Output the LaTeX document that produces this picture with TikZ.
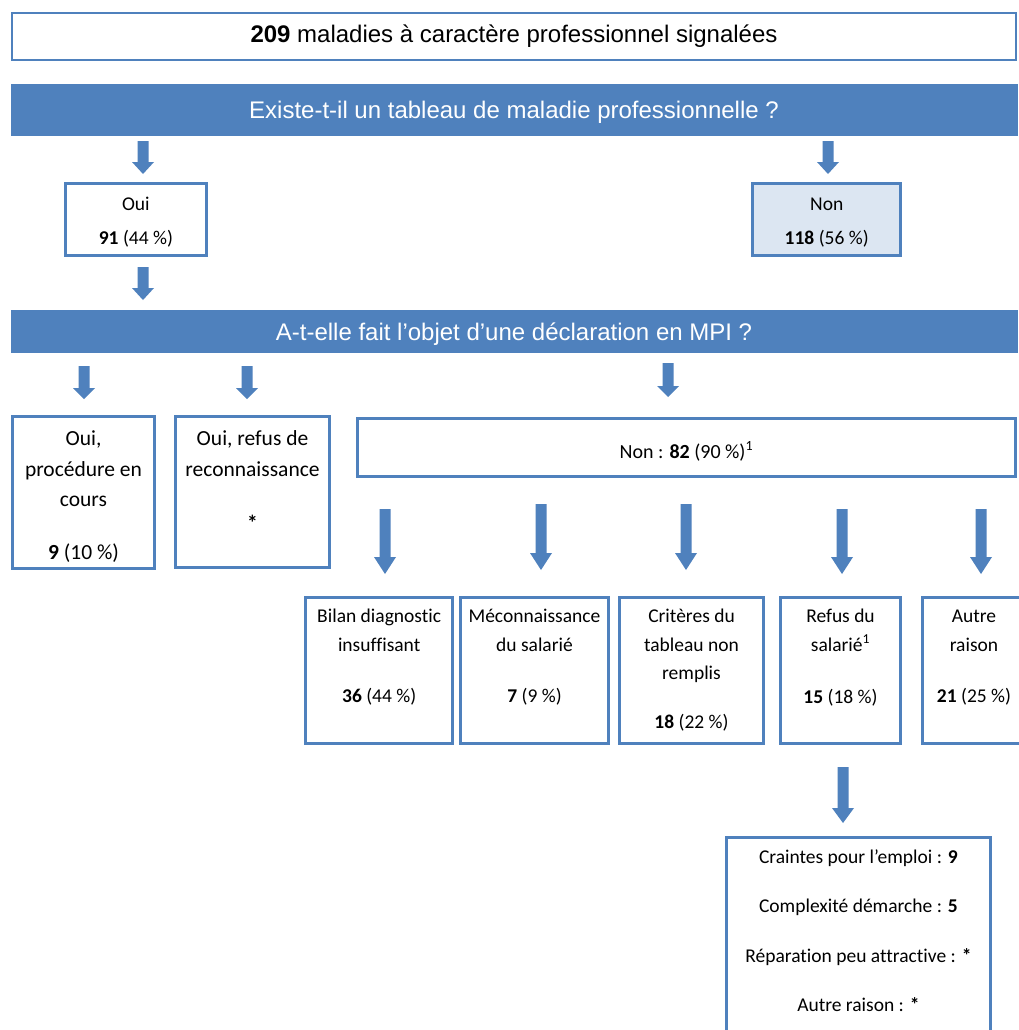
\documentclass[tikz,border=0pt]{standalone}
\usepackage{fontspec}
\newfontfamily\calfont[Ligatures=NoCommon]{Carlito}
\newfontfamily\arialfont{Liberation Sans}
\usetikzlibrary{calc}
\definecolor{ob}{HTML}{4F81BD}
\definecolor{lb}{HTML}{DCE6F2}
% width, height, first-baseline offset, font, content
\newcommand{\cellbox}[5]{\parbox[c][#2][t]{#1}{\centering#4\lineskiplimit=-100pt\relax\rule{0pt}{#3}#5}}
\tikzset{
  box/.style={draw=ob, line width=3pt, fill=white, inner sep=0pt, outer sep=0pt},
  bar/.style={fill=ob, draw=ob, line width=0.5pt, text=white, inner sep=0pt,
              font=\arialfont\fontsize{24}{28}\selectfont},
  barrow/.style={fill=ob, draw=none, to path={
      ($(\tikztostart)+(-5.5,0)$) -- ($(\tikztotarget)+(-5.5,-#1)$) --
      ($(\tikztotarget)+(-11,-#1)$) -- (\tikztotarget) --
      ($(\tikztotarget)+(11,-#1)$) -- ($(\tikztotarget)+(5.5,-#1)$) --
      ($(\tikztostart)+(5.5,0)$) -- cycle}},
  barrow/.default=12
}
\newcommand{\fsA}{\calfont\fontsize{19.5}{34}\selectfont}
\newcommand{\fsB}{\calfont\fontsize{21.5}{30.5}\selectfont}
\newcommand{\fsC}{\calfont\fontsize{20}{24}\selectfont}
\newcommand{\fsD}{\calfont\fontsize{19.5}{28.5}\selectfont}
\newcommand{\fsE}{\calfont\fontsize{19.5}{49.5}\selectfont}
\begin{document}
\begin{tikzpicture}[x=1pt,y=-1pt]
\useasboundingbox (0,0) rectangle (1019,1030);
\clip (0,0) rectangle (1019,1030);
\fill[white] (0,0) rectangle (1019,1030);

% header boxes
\node[box, line width=2pt, minimum width=1004pt, minimum height=47pt,
      text height=17.4pt, text depth=5pt, font=\arialfont\fontsize{24}{28}\selectfont]
  (top) at (514,36.5) {\textbf{209} maladies à caractère professionnel signalées};
\node[bar, minimum width=1006pt, minimum height=51pt, text height=22.6pt, text depth=5pt]
  (q1) at (514,109.5) {Existe-t-il un tableau de maladie professionnelle ?};

\node[box] (oui) at (135.9,219.2)
  {\cellbox{140.7pt}{72pt}{26.8pt}{\fsA}{Oui\\\textbf{91} (44~\%)}};
\node[box, fill=lb] (non) at (826.7,219.2)
  {\cellbox{148.3pt}{72pt}{26.8pt}{\fsA}{Non\\\textbf{118} (56~\%)}};

\node[bar, minimum width=1006pt, minimum height=42pt, text height=24.4pt, text depth=5pt]
  (q2) at (514,331) {A-t-elle fait l’objet d’une déclaration en MPI ?};

\node[box] (proc) at (83.5,492.5)
  {\cellbox{142pt}{152pt}{29.2pt}{\fsB}{Oui,\\procédure en\\cours\\[21.8pt]\textbf{9} (10~\%)}};
\node[box] (refus) at (252.5,492.2)
  {\cellbox{153.4pt}{151.3pt}{29.2pt}{\fsB}{Oui, refus de\\reconnaissance\\[24pt]\textbf{*}}};
\node[box] (nonmpi) at (686.4,447.5)
  {\cellbox{658.3pt}{58.6pt}{40.1pt}{\fsC}{Non : \textbf{82} (90~\%)\textsuperscript{1}}};

\node[box] (b1) at (379.2,670.6)
  {\cellbox{147.3pt}{146.3pt}{25.5pt}{\fsD}{Bilan diagnostic\\insuffisant\\[22.5pt]\textbf{36} (44~\%)}};
\node[box] (b2) at (534.5,670.6)
  {\cellbox{148pt}{146.3pt}{25.5pt}{\fsD}{Méconnaissance\\du salarié\\[22.5pt]\textbf{7} (9~\%)}};
\node[box] (b3) at (691.5,670.6)
  {\cellbox{144pt}{146.3pt}{25.5pt}{\fsD}{Critères du\\tableau non\\remplis\\[20.5pt]\textbf{18} (22~\%)}};
\node[box] (b4) at (840.5,670.6)
  {\cellbox{120pt}{146.3pt}{25.5pt}{\fsD}{Refus du\\salarié\textsuperscript{1}\\[24pt]\textbf{15} (18~\%)}};
\node[box] (b5) at (974,670.6)
  {\cellbox{103pt}{146.3pt}{25.5pt}{\fsD}{Autre\\raison\\[22.5pt]\textbf{21} (25~\%)}};

\node[box] (detail) at (858.4,943.75)
  {\cellbox{263.7pt}{212.5pt}{25.8pt}{\fsE}{Craintes pour l’emploi : \textbf{9}\\Complexité démarche : \textbf{5}\\Réparation peu attractive : \textbf{*}\\Autre raison : \textbf{*}}};

% arrow end points
\coordinate (a1s) at (143,141);   \coordinate (a1e) at (143,174);
\coordinate (a2s) at (828,141);   \coordinate (a2e) at (828,174);
\coordinate (a3s) at (143,267);   \coordinate (a3e) at (143,300);
\coordinate (a4s) at (84,366);    \coordinate (a4e) at (84,399);
\coordinate (a5s) at (247,366);   \coordinate (a5e) at (247,399);
\coordinate (a6s) at (668,363);   \coordinate (a6e) at (668,397);
\coordinate (a7s) at (385,509);   \coordinate (a7e) at (385,574);
\coordinate (a8s) at (541,504);   \coordinate (a8e) at (541,570);
\coordinate (a9s) at (686,504);   \coordinate (a9e) at (686,570);
\coordinate (a10s) at (842,509);  \coordinate (a10e) at (842,574);
\coordinate (a11s) at (981,509);  \coordinate (a11e) at (981,574);
\coordinate (a12s) at (843,767);  \coordinate (a12e) at (843,823);

\path[barrow=12] (a1s) to (a1e);
\path[barrow=12] (a2s) to (a2e);
\path[barrow=12] (a3s) to (a3e);
\path[barrow=11] (a4s) to (a4e);
\path[barrow=11] (a5s) to (a5e);
\path[barrow=11] (a6s) to (a6e);
\path[barrow=17] (a7s) to (a7e);
\path[barrow=17] (a8s) to (a8e);
\path[barrow=17] (a9s) to (a9e);
\path[barrow=17] (a10s) to (a10e);
\path[barrow=17] (a11s) to (a11e);
\path[barrow=15] (a12s) to (a12e);
\end{tikzpicture}
\end{document}
